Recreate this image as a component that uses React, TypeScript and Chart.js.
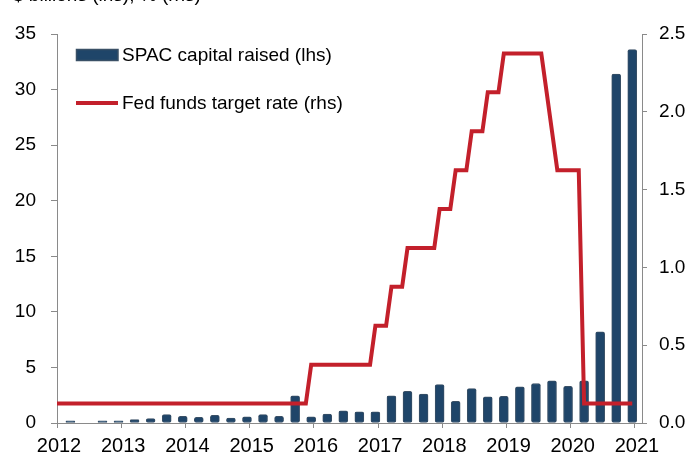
import React, { useEffect, useRef } from "react";
import { Chart, registerables } from "chart.js";

Chart.register(...registerables);

// ---- data ----
const axisTitle = "$ billions (lhs), % (rhs)";
const barLabel = "SPAC capital raised (lhs)";
const lineLabel = "Fed funds target rate (rhs)";

// quarter-end months (bars plotted at the middle of the quarter's last month)
const quarters = [
  "2012-03", "2012-06", "2012-09", "2012-12",
  "2013-03", "2013-06", "2013-09", "2013-12",
  "2014-03", "2014-06", "2014-09", "2014-12",
  "2015-03", "2015-06", "2015-09", "2015-12",
  "2016-03", "2016-06", "2016-09", "2016-12",
  "2017-03", "2017-06", "2017-09", "2017-12",
  "2018-03", "2018-06", "2018-09", "2018-12",
  "2019-03", "2019-06", "2019-09", "2019-12",
  "2020-03", "2020-06", "2020-09", "2020-12",
];

// SPAC capital raised, $ billions
const spacRaised = [
  0.2, 0, 0.2, 0.2,
  0.3, 0.4, 0.75, 0.6,
  0.5, 0.7, 0.45, 0.55,
  0.75, 0.6, 2.45, 0.55,
  0.8, 1.1, 1.0, 1.0,
  2.45, 2.85, 2.6, 3.45,
  1.95, 3.1, 2.35, 2.4,
  3.25, 3.55, 3.8, 3.3,
  3.8, 8.2, 31.4, 33.6,
];

// monthly Fed funds target rate (midpoint, %), starting Dec 2011
const rateStart = "2011-12";
const fedRate = [
  0.125,
  // 2012
  0.125, 0.125, 0.125, 0.125, 0.125, 0.125, 0.125, 0.125, 0.125, 0.125, 0.125, 0.125,
  // 2013
  0.125, 0.125, 0.125, 0.125, 0.125, 0.125, 0.125, 0.125, 0.125, 0.125, 0.125, 0.125,
  // 2014
  0.125, 0.125, 0.125, 0.125, 0.125, 0.125, 0.125, 0.125, 0.125, 0.125, 0.125, 0.125,
  // 2015
  0.125, 0.125, 0.125, 0.125, 0.125, 0.125, 0.125, 0.125, 0.125, 0.125, 0.125, 0.375,
  // 2016
  0.375, 0.375, 0.375, 0.375, 0.375, 0.375, 0.375, 0.375, 0.375, 0.375, 0.375, 0.625,
  // 2017
  0.625, 0.625, 0.875, 0.875, 0.875, 1.125, 1.125, 1.125, 1.125, 1.125, 1.125, 1.375,
  // 2018
  1.375, 1.375, 1.625, 1.625, 1.625, 1.875, 1.875, 1.875, 2.125, 2.125, 2.125, 2.375,
  // 2019
  2.375, 2.375, 2.375, 2.375, 2.375, 2.375, 2.375, 2.125, 1.875, 1.625, 1.625, 1.625,
  // 2020
  1.625, 1.625, 0.125, 0.125, 0.125, 0.125, 0.125, 0.125, 0.125, 0.125, 0.125, 0.125,
];

const yearTicks = [2012, 2013, 2014, 2015, 2016, 2017, 2018, 2019, 2020, 2021];
const leftTicks = [0, 5, 10, 15, 20, 25, 30, 35];
const rightTicks = [0, 0.5, 1.0, 1.5, 2.0, 2.5];

// ---- styles ----
const FONT = "'Liberation Sans', Arial, Helvetica, sans-serif";
const BAR_FILL = "#1f4569";
const BAR_EDGE = "#3a5066";
const RED = "#c3202b";
const AXIS = "#8a8a8a";

const monthToYear = (ym: string) => {
  const [y, m] = ym.split("-").map(Number);
  return y + (m - 0.5) / 12;
};
const monthOffset = (ym: string, k: number) => {
  const [y, m] = ym.split("-").map(Number);
  const total = y * 12 + (m - 1) + k;
  return Math.floor(total / 12) + ((total % 12) + 0.5) / 12;
};

const overlay = {
  id: "overlay",
  afterDraw(chart: any) {
    const ctx = chart.ctx as CanvasRenderingContext2D;
    ctx.save();
    ctx.fillStyle = "#000";
    ctx.textAlign = "left";
    ctx.font = `19px ${FONT}`;
    ctx.textBaseline = "alphabetic";
    ctx.fillText(axisTitle, 13, 1);

    // legend: bar swatch
    ctx.fillStyle = BAR_FILL;
    ctx.strokeStyle = BAR_EDGE;
    ctx.lineWidth = 1.5;
    ctx.fillRect(76.5, 49.5, 41.5, 11);
    ctx.strokeRect(76.5, 49.5, 41.5, 11);
    // legend: line swatch
    ctx.strokeStyle = RED;
    ctx.lineWidth = 4;
    ctx.beginPath();
    ctx.moveTo(76, 103);
    ctx.lineTo(118, 103);
    ctx.stroke();

    ctx.fillStyle = "#000";
    ctx.textBaseline = "middle";
    ctx.font = `19px ${FONT}`;
    ctx.fillText(barLabel, 122, 56);
    ctx.fillText(lineLabel, 122, 104);
    ctx.restore();
  },
};

export default function App() {
  const ref = useRef<HTMLCanvasElement | null>(null);

  useEffect(() => {
    if (!ref.current) return;
    const chart = new Chart(ref.current, {
      type: "bar",
      data: {
        datasets: [
          {
            type: "line",
            label: lineLabel,
            data: fedRate.map((v, i) => ({ x: monthOffset(rateStart, i), y: v })),
            borderColor: RED,
            backgroundColor: RED,
            borderWidth: 4,
            pointRadius: 0,
            tension: 0,
            xAxisID: "x",
            yAxisID: "y2",
            order: 1,
          } as any,
          {
            type: "bar",
            label: barLabel,
            data: quarters.map((q, i) => ({ x: monthToYear(q), y: spacRaised[i] })),
            backgroundColor: BAR_FILL,
            borderColor: BAR_EDGE,
            borderWidth: 1,
            borderRadius: 2,
            borderSkipped: false,
            barThickness: 9,
            xAxisID: "x",
            yAxisID: "y",
            order: 2,
          } as any,
        ],
      },
      options: {
        responsive: false,
        animation: false,
        devicePixelRatio: 1,
        layout: { padding: { top: 34, left: 0, right: 0, bottom: 0 } },
        plugins: {
          legend: { display: false },
          tooltip: { enabled: false },
          title: { display: false },
        },
        scales: {
          x: {
            type: "linear",
            position: "bottom",
            offset: false,
            min: 2012,
            max: 2021.11,
            afterBuildTicks: (s: any) => {
              s.ticks = yearTicks.map((v) => ({ value: v }));
            },
            afterFit: (s: any) => {
              s.height = 32;
              s.paddingLeft = 0;
              s.paddingRight = 0;
            },
            grid: { offset: false, drawOnChartArea: false, drawTicks: true, tickLength: 5, color: AXIS },
            border: { display: true, color: AXIS },
            ticks: {
              autoSkip: false,
              maxRotation: 0,
              padding: 6,
              labelOffset: 2,
              color: "#000",
              font: { family: FONT, size: 20 },
              callback: (v: any) => String(v),
            },
          },
          y: {
            type: "linear",
            position: "left",
            min: 0,
            max: 35,
            afterBuildTicks: (s: any) => {
              s.ticks = leftTicks.map((v) => ({ value: v }));
            },
            afterFit: (s: any) => {
              s.width = 57;
            },
            grid: { drawOnChartArea: false, drawTicks: true, tickLength: 6, color: AXIS },
            border: { display: true, color: AXIS },
            ticks: {
              padding: 15,
              color: "#000",
              font: { family: FONT, size: 19 },
              callback: (v: any) => String(v),
            },
          },
          y2: {
            type: "linear",
            position: "right",
            min: 0,
            max: 2.5,
            afterBuildTicks: (s: any) => {
              s.ticks = rightTicks.map((v) => ({ value: v }));
            },
            afterFit: (s: any) => {
              s.width = 49;
            },
            grid: { drawOnChartArea: false, drawTicks: true, tickLength: 5, color: AXIS },
            border: { display: true, color: AXIS },
            ticks: {
              padding: 12,
              color: "#000",
              font: { family: FONT, size: 19 },
              callback: (v: any) => Number(v).toFixed(1),
            },
          },
        },
      },
      plugins: [overlay],
    });
    return () => chart.destroy();
  }, []);

  return (
    <div style={{ position: "fixed", left: 0, top: 0, width: 691, height: 455, background: "#fff" }}>
      <canvas ref={ref} width={691} height={455} style={{ display: "block", width: 691, height: 455 }} />
    </div>
  );
}
